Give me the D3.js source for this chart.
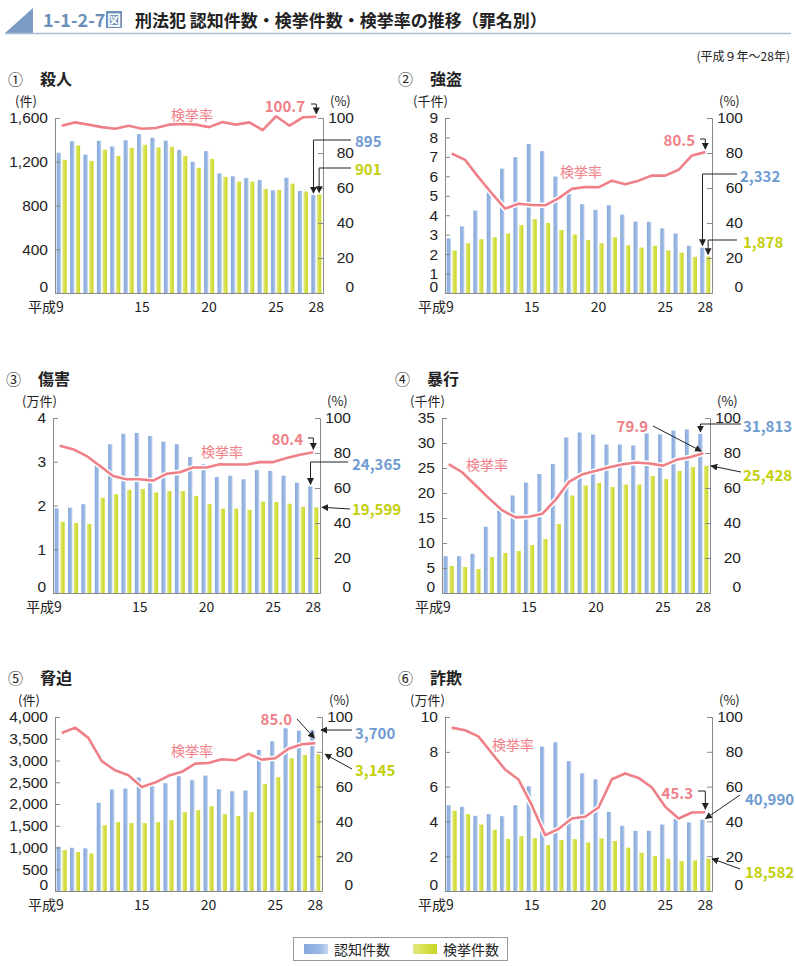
<!DOCTYPE html>
<html><head><meta charset="utf-8">
<script src="https://cdn.jsdelivr.net/npm/d3@7"></script>
<style>
body{margin:0;background:#fff;}
svg{display:block;font-family:"Noto Sans CJK JP","Noto Sans",sans-serif;}
</style></head><body>
<svg id="c" width="796" height="966"></svg>
<script>
// ---------------- DATA ----------------
const years = ["9","10","11","12","13","14","15","16","17","18","19","20","21","22","23","24","25","26","27","28"];
const yearTickValues = ["9","15","20","25","28"];
const rateTicks = [0,20,40,60,80,100];

// ① 殺人 (件)
const murderRec  = [1282,1388,1265,1391,1340,1396,1452,1419,1392,1309,1199,1297,1094,1067,1051,1032,939,1054,933,895];
const murderClr  = [1218,1349,1208,1309,1254,1328,1355,1331,1337,1254,1144,1227,1062,1019,1019,951,942,1000,927,901];
const murderRate = [95.6,97.5,96.2,94.8,93.9,95.6,93.9,94.3,96.2,96.6,96.2,94.8,97.7,96.2,97.5,93.1,101.0,95.6,100.4,100.7];
const murderTicks = [0,400,800,1200,1600];

// ② 強盗 (件; axis in 千件)
const robberyRec  = [2809,3426,4237,5173,6393,6984,7664,7295,5988,5108,4567,4278,4512,4029,3673,3658,3324,3056,2426,2332];
const robberyClr  = [2190,2560,2770,2870,3060,3490,3800,3600,3240,3010,2720,2560,2870,2460,2340,2430,2190,2080,1860,1878];
const robberyRate = [79.7,76.1,66.2,57.0,48.2,51.0,50.3,50.1,54.1,59.5,60.6,60.4,64.2,62.1,64.2,67.1,67.1,70.4,78.6,80.5];
const robberyTicks = [0,1000,2000,3000,4000,5000,6000,7000,8000,9000];

// ③ 傷害 (件; axis in 万件)
const injuryRec  = [19350,19500,20300,30100,34000,36400,36600,35900,34600,34000,31100,29500,26500,26800,26000,28100,27900,26800,25200,24365];
const injuryClr  = [16300,16000,15800,21800,22600,23600,23800,23000,23300,23300,22200,20300,19300,19300,19000,20900,20800,20400,19700,19599];
const injuryRate = [84.1,82.2,78.4,72.7,66.9,65.0,65.0,64.2,68.1,69.0,71.7,71.7,73.6,73.4,73.4,74.8,74.8,77.1,79.0,80.4];
const injuryTicks = [0,10000,20000,30000,40000];

// ④ 暴行 (件; axis in 千件)
const assaultRec  = [7360,7360,7830,13250,16500,19500,22100,23800,25800,31100,32100,31700,29700,29700,29500,31900,31700,32500,32700,31813];
const assaultClr  = [5400,5200,4800,7200,8000,8400,9600,10800,13800,19500,21500,22000,21200,21700,21700,23400,22800,24400,25200,25428];
const assaultRate = [73.6,69.0,61.6,54.1,47.2,43.2,43.6,45.3,53.5,63.7,67.9,69.8,71.9,73.6,74.6,74.0,72.8,76.1,77.6,79.9];
const assaultTicks = [0,5000,10000,15000,20000,25000,30000,35000];

// ⑤ 脅迫 (件)
const intimRec  = [1017,994,980,2027,2333,2356,2608,2417,2478,2639,2547,2654,2340,2294,2310,3243,3442,3740,3686,3700];
const intimClr  = [941,895,864,1514,1583,1560,1560,1583,1629,1813,1859,1950,1767,1721,1813,2455,2616,3052,3128,3145];
const intimRate = [90.8,93.9,88.0,74.6,69.4,66.5,59.8,62.3,66.2,68.5,73.2,73.6,75.7,75.1,78.8,75.5,76.3,81.8,84.3,85.0];
const intimTicks = [0,500,1000,1500,2000,2500,3000,3500,4000];

// ⑥ 詐欺 (件; axis in 万件)
const fraudRec  = [49300,48400,43200,44200,43000,49300,60200,83000,85500,74600,67700,64200,45500,37500,34600,34600,38200,41300,39400,40990];
const fraudClr  = [46100,44200,38200,35200,30000,31500,30400,26400,29300,29800,27900,30200,28700,24900,22000,20100,18500,17200,17600,18582];
const fraudRate = [93.9,92.4,88.9,79.3,69.8,64.1,49.3,32.1,35.6,41.7,42.7,48.0,64.2,67.5,65.0,59.5,48.4,41.7,45.1,45.3];
const fraudTicks = [0,20000,40000,60000,80000,100000];

const seriesNames = ["認知件数","検挙件数"];

// ---------------- STYLE / LAYOUT ----------------
const PINK = "#ef8088", BLUE_T = "#6f9bd3", YEL_T = "#c2cf0a", AX = "#8a8a8a";
const NUMFONT = "'Liberation Sans', Arial, sans-serif";
const fmtComma = d3.format(",");

const panels = [
 {title:"殺人", num:"①", unit:"(件)", rec:murderRec, clr:murderClr, rate:murderRate, ticks:murderTicks, div:1, fmt:fmtComma,
  box:{l:55,r:323,t:118,b:293}, unitX:15, rateLbl:[137,-4],
  ann:[
   {s:"rate", text:"100.7", color:PINK, lx:-18, ly:-13, anchor:"end", kind:"elbow", sx:-12, sy:-14, dy:-3},
   {s:"rec", text:"895", color:BLUE_T, lx:32, ly:22, anchor:"start", kind:"elbow", sx:28, sy:22, dy:-2},
   {s:"clr", text:"901", color:YEL_T, lx:32, ly:50, anchor:"start", kind:"elbow", sx:28, sy:50, dy:-2}
  ]},
 {title:"強盗", num:"②", unit:"(千件)", rec:robberyRec, clr:robberyClr, rate:robberyRate, ticks:robberyTicks, div:1000, fmt:d=>d,
  box:{l:445,r:712,t:118,b:293}, unitX:413, rateLbl:[136,53],
  ann:[
   {s:"rate", text:"80.5", color:PINK, lx:-17, ly:21, anchor:"end", kind:"elbow", sx:-12, sy:21, dy:-3},
   {s:"rec", text:"2,332", color:BLUE_T, lx:28, ly:57, anchor:"start", kind:"elbow", sx:25, sy:56, dy:-2},
   {s:"clr", text:"1,878", color:YEL_T, lx:31, ly:123, anchor:"start", kind:"elbow", sx:25, sy:122, dy:-2}
  ]},
 {title:"傷害", num:"③", unit:"(万件)", rec:injuryRec, clr:injuryClr, rate:injuryRate, ticks:injuryTicks, div:10000, fmt:d=>d,
  box:{l:53,r:320,t:418,b:593}, unitX:22, rateLbl:[169,33],
  ann:[
   {s:"rate", text:"80.4", color:PINK, lx:-17, ly:20, anchor:"end", kind:"elbow", sx:-12, sy:20, dy:-3},
   {s:"rec", text:"24,365", color:BLUE_T, lx:32, ly:45, anchor:"start", kind:"elbow", sx:28, sy:44, dy:-2},
   {s:"clr", text:"19,599", color:YEL_T, lx:32, ly:90, anchor:"start", kind:"straight", sx:30, sy:91, atAxis:2, dy:0}
  ]},
 {title:"暴行", num:"④", unit:"(千件)", rec:assaultRec, clr:assaultClr, rate:assaultRate, ticks:assaultTicks, div:1000, fmt:d=>d,
  box:{l:442,r:710,t:418,b:593}, unitX:410, rateLbl:[45,46],
  ann:[
   {s:"rate", text:"79.9", color:PINK, lx:-62, ly:7, anchor:"end", kind:"straight", sx:-57, sy:8, dx:-2, dy:-2},
   {s:"rec", text:"31,813", color:BLUE_T, lx:33, ly:7, anchor:"start", kind:"elbow", sx:31, sy:6, dy:-2},
   {s:"clr", text:"25,428", color:YEL_T, lx:33, ly:56, anchor:"start", kind:"straight", sx:31, sy:54, atAxis:1, dy:0}
  ]},
 {title:"脅迫", num:"⑤", unit:"(件)", rec:intimRec, clr:intimClr, rate:intimRate, ticks:intimTicks, div:1, fmt:fmtComma,
  box:{l:55,r:322,t:717,b:891}, unitX:18, rateLbl:[137,33],
  ann:[
   {s:"rate", text:"85.0", color:PINK, lx:-30, ly:1, anchor:"end", kind:"straight", sx:-25, sy:2, dx:-1, dy:-5},
   {s:"rec", text:"3,700", color:BLUE_T, lx:33, ly:15, anchor:"start", kind:"straight", sx:30, sy:13, atAxis:-1, dy:0},
   {s:"clr", text:"3,145", color:YEL_T, lx:33, ly:52, anchor:"start", kind:"straight", sx:30, sy:52, atAxis:3, dy:0}
  ]},
 {title:"詐欺", num:"⑥", unit:"(万件)", rec:fraudRec, clr:fraudClr, rate:fraudRate, ticks:fraudTicks, div:10000, fmt:d=>d,
  box:{l:445,r:712,t:717,b:891}, unitX:410, rateLbl:[68,27],
  ann:[
   {s:"rate", text:"45.3", color:PINK, lx:-19, ly:75, anchor:"end", kind:"elbow", sx:-14, sy:74, dy:-3},
   {s:"rec", text:"40,990", color:BLUE_T, lx:33, ly:81, anchor:"start", kind:"straight", sx:28, sy:78, dx:3, dy:-1},
   {s:"clr", text:"18,582", color:YEL_T, lx:33, ly:154, anchor:"start", kind:"straight", sx:28, sy:152, atAxis:0, dy:0}
  ]}
];

// ---------------- DRAW ----------------
const svg = d3.select("#c");
const defs = svg.append("defs");
const gB = defs.append("linearGradient").attr("id","gBlue").attr("x1",0).attr("x2",1).attr("y1",0).attr("y2",0);
gB.append("stop").attr("offset","0").attr("stop-color","#86a8db");
gB.append("stop").attr("offset","0.65").attr("stop-color","#9ab8e3");
gB.append("stop").attr("offset","1").attr("stop-color","#c8d9f2");
const gY = defs.append("linearGradient").attr("id","gYel").attr("x1",0).attr("x2",1).attr("y1",0).attr("y2",0);
gY.append("stop").attr("offset","0").attr("stop-color","#e2e984");
gY.append("stop").attr("offset","0.5").attr("stop-color","#d6e04a");
gY.append("stop").attr("offset","1").attr("stop-color","#c8d424");
defs.append("marker").attr("id","arr").attr("viewBox","0 0 10 10").attr("refX",9).attr("refY",5)
  .attr("markerWidth",7).attr("markerHeight",7).attr("markerUnits","userSpaceOnUse").attr("orient","auto")
  .append("path").attr("d","M0,0 L10,5 L0,10 Z").attr("fill","#222");

// Header
svg.append("polygon").attr("points","5,33 33,8 33,33").attr("fill","#7b9cc2");
svg.append("line").attr("x1",5).attr("x2",791).attr("y1",33.5).attr("y2",33.5).attr("stroke","#a8bed6").attr("stroke-width",1.5);
svg.append("text").attr("x",43).attr("y",27).attr("font-size",18).attr("font-weight","bold").attr("fill","#6b90b9").text("1-1-2-7");
svg.append("rect").attr("x",106).attr("y",11).attr("width",16).attr("height",17).attr("fill","#6b90b9");
svg.append("text").attr("x",114).attr("y",25).attr("text-anchor","middle").attr("font-size",14).attr("font-weight","bold").attr("fill","#fff").text("図");
svg.append("text").attr("x",135).attr("y",27).attr("font-size",17).attr("font-weight","bold").attr("fill","#222")
  .text("刑法犯 認知件数・検挙件数・検挙率の推移（罪名別）");
svg.append("text").attr("x",790).attr("y",61).attr("text-anchor","end").attr("font-size",12).attr("fill","#222").text("(平成９年～28年)");

panels.forEach(p => {
  const {l,r,t,b} = p.box;
  const g = svg.append("g");
  const x = d3.scaleBand().domain(years).range([l,r]).paddingInner(0).paddingOuter(0);
  const xs = d3.scaleBand().domain(seriesNames).range([0,x.bandwidth()]).paddingInner(0.23).paddingOuter(0.3);
  const y = d3.scaleLinear().domain([0,p.ticks[p.ticks.length-1]]).range([b,t]);
  const yR = d3.scaleLinear().domain([0,100]).range([b,t]);

  // title
  g.append("text").attr("x",l-47).attr("y",t-40).attr("dominant-baseline","central").attr("font-size",15).attr("fill","#222").text(p.num);
  g.append("text").attr("x",l-15).attr("y",t-40).attr("dominant-baseline","central").attr("font-size",16).attr("font-weight","bold").attr("fill","#222").text(p.title);
  g.append("text").attr("x",p.unitX).attr("y",t-18).attr("dominant-baseline","central").attr("font-size",13).attr("fill","#222").text(p.unit);
  g.append("text").attr("x",r+7).attr("y",t-18).attr("dominant-baseline","central").attr("font-size",13).attr("fill","#222").text("(%)");

  // bars
  const rows = years.map((yr,i)=>({yr, vals:[{k:seriesNames[0],v:p.rec[i]},{k:seriesNames[1],v:p.clr[i]}]}));
  g.append("g").selectAll("g").data(rows).join("g").attr("transform",d=>`translate(${x(d.yr)},0)`)
    .selectAll("rect").data(d=>d.vals).join("rect")
    .attr("x",d=>xs(d.k)).attr("width",xs.bandwidth())
    .attr("y",d=>y(d.v)).attr("height",d=>b-y(d.v))
    .attr("fill",d=>d.k===seriesNames[0]?"url(#gBlue)":"url(#gYel)");

  // axes
  const axL = d3.axisLeft(y).tickValues(p.ticks).tickSize(-5).tickPadding(7).tickFormat(d=>p.fmt(d/p.div));
  const gl = g.append("g").attr("transform",`translate(${l},0)`).call(axL);
  const axR = d3.axisRight(yR).tickValues(rateTicks).tickSize(-5).tickPadding(8);
  const gr = g.append("g").attr("transform",`translate(${r},0)`).call(axR);
  [gl,gr].forEach(a=>{
    a.attr("font-family",NUMFONT).attr("font-size",15.5);
    a.select(".domain").attr("stroke",AX);
    a.selectAll(".tick line").attr("stroke",AX);
    a.selectAll(".tick text").attr("fill","#222");
    a.selectAll(".tick").filter(d=>d===0).select("text").attr("dy","-0.1em");
  });
  gr.selectAll(".tick text").attr("text-anchor","end").attr("x",31);
  g.append("line").attr("x1",l).attr("x2",r).attr("y1",b+0.5).attr("y2",b+0.5).attr("stroke",AX);

  // x labels
  g.append("g").selectAll("text").data(yearTickValues).join("text")
    .attr("x",d=> d==="9" ? x(d)+x.bandwidth()/2+2 : x(d)+x.bandwidth()/2)
    .attr("y",b+13).attr("dominant-baseline","central")
    .attr("text-anchor",d=>d==="9"?"end":"middle")
    .attr("font-size",14).attr("fill","#222")
    .text(d=>d==="9"?"平成9":d);

  // rate line
  const line = d3.line().x((d,i)=>x(years[i])+x.bandwidth()/2).y(d=>yR(d)).curve(d3.curveLinear);
  g.append("path").datum(p.rate).attr("d",line).attr("fill","none").attr("stroke","#fff").attr("stroke-width",5.5).attr("stroke-linejoin","round");
  g.append("path").datum(p.rate).attr("d",line).attr("fill","none").attr("stroke",PINK).attr("stroke-width",2.6).attr("stroke-linejoin","round");
  g.append("text").attr("x",l+p.rateLbl[0]).attr("y",t+p.rateLbl[1]).attr("text-anchor","middle").attr("dominant-baseline","central")
    .attr("font-size",14).attr("fill",PINK).text("検挙率");

  // annotations
  const last = years.length-1, lastYr = years[last];
  p.ann.forEach(a=>{
    let tx, ty;
    if (a.s==="rate"){ tx = x(lastYr)+x.bandwidth()/2; ty = yR(p.rate[last]); }
    else if (a.s==="rec"){ tx = x(lastYr)+xs(seriesNames[0])+xs.bandwidth()/2; ty = y(p.rec[last]); }
    else { tx = x(lastYr)+xs(seriesNames[1])+xs.bandwidth()/2; ty = y(p.clr[last]); }
    if (a.atAxis!==undefined) tx = r + a.atAxis;
    tx += (a.dx||0); ty += (a.dy||0);
    const sx = r + a.sx, sy = t + a.sy;
    const d = a.kind==="elbow" ? `M${sx},${sy}H${tx}V${ty}` : `M${sx},${sy}L${tx},${ty}`;
    g.append("path").attr("d",d).attr("fill","none").attr("stroke","#222").attr("stroke-width",1).attr("marker-end","url(#arr)");
    g.append("text").attr("x",r+a.lx).attr("y",t+a.ly).attr("text-anchor",a.anchor).attr("dominant-baseline","central")
      .attr("font-size",15).attr("font-weight","bold").attr("fill",a.color).text(a.text);
  });
});

// legend
const lg = svg.append("g");
lg.append("rect").attr("x",293.5).attr("y",937.5).attr("width",214).attr("height",23).attr("fill","#fff").attr("stroke","#999");
const legendItems = [{name:seriesNames[0],fill:"url(#gBlue)",x:304},{name:seriesNames[1],fill:"url(#gYel)",x:413}];
lg.selectAll("g").data(legendItems).join("g").each(function(d){
  const s = d3.select(this);
  s.append("rect").attr("x",d.x).attr("y",944).attr("width",24).attr("height",10).attr("fill",d.fill);
  s.append("text").attr("x",d.x+30).attr("y",949).attr("dominant-baseline","central").attr("font-size",14).attr("fill","#222").text(d.name);
});
</script>
</body></html>
